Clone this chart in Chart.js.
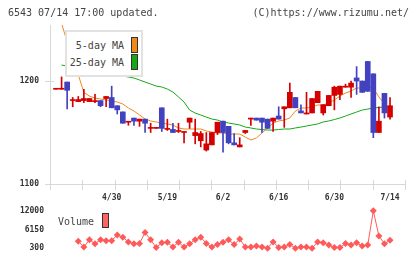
<!DOCTYPE html>
<html><head><meta charset="utf-8">
<script src="https://cdn.jsdelivr.net/npm/chart.js@4/dist/chart.umd.min.js"></script>
<style>
html,body{margin:0;padding:0;background:#fff;}
#wrap{position:relative;width:420px;height:259px;overflow:hidden;font-family:"DejaVu Sans Mono",monospace;}
canvas{position:absolute;left:0;}
#main{top:0;}
#vol{top:200px;}
.t{position:absolute;font-size:10px;line-height:12px;color:#444;white-space:pre;}
#legend{position:absolute;left:65px;top:30px;width:78px;height:47px;box-sizing:border-box;border:2px solid #e2e2e2;background:#fff;}
.sw{position:absolute;width:7px;height:16px;box-sizing:border-box;border:1px solid #333;}
</style></head>
<body><div id="wrap">
<canvas id="main" width="420" height="205"></canvas>
<canvas id="vol" width="420" height="59"></canvas>
<div class="t" style="left:8px;top:7px;">6543 07/14 17:00 updated.</div>
<div class="t" style="right:11px;top:7px;">(C)https://www.rizumu.net/</div>
<div id="legend"></div>
<div class="t" style="right:296px;top:40px;">5-day MA</div>
<div class="t" style="right:296px;top:57px;">25-day MA</div>
<div class="sw" style="left:131px;top:37px;background:#f08a1a;"></div>
<div class="sw" style="left:131px;top:54px;background:#16a816;"></div>
<div class="t" style="left:58px;top:216px;">Volume</div>
<div class="sw" style="left:102px;top:213px;height:15px;background:#ff6464;"></div>
</div>
<script>
// ---- data (index 0 .. 60 = trading days, last = 7/14) ----
const tickLabels = ['4/30','5/19','6/2','6/16','6/30','7/14'];
const tickIndex  = [10, 20, 30, 40, 50, 60];
const open  = [1192,1192,1199,1181,1180,1181,1180,1180,1181,1183,1184,1176,1170,1160,1164,1161,1163,1154,1154,1174,1153,1153,1151,1150,1160,1147,1142,1133,1138,1150,1161,1156,1140,1136,1150,1163,1164,1164,1163,1161,1166,1173,1174,1184,1171,1168,1169,1179,1169,1176,1186,1187,1194,1194,1203,1200,1219,1207,1150,1188,1165];
const high  = [1192,1204,1199,1184,1185,1192,1183,1187,1181,1185,1195,1176,1170,1160,1164,1163,1163,1159,1155,1174,1163,1159,1159,1151,1164,1163,1151,1150,1150,1160,1161,1156,1149,1145,1152,1164,1164,1164,1163,1164,1175,1175,1198,1184,1177,1189,1183,1190,1177,1186,1195,1195,1197,1200,1214,1200,1219,1207,1175,1188,1184];
const low   = [1192,1192,1173,1175,1180,1179,1180,1179,1175,1175,1174,1168,1159,1157,1157,1156,1150,1150,1154,1151,1152,1150,1150,1140,1154,1139,1136,1132,1138,1148,1131,1139,1138,1136,1149,1157,1162,1150,1154,1151,1163,1155,1174,1174,1169,1168,1169,1179,1167,1176,1172,1182,1194,1184,1187,1189,1190,1145,1150,1164,1163];
const close = [1192,1192,1191,1181,1182,1183,1183,1181,1176,1185,1174,1172,1159,1160,1161,1163,1159,1155,1155,1154,1154,1150,1152,1151,1164,1150,1149,1139,1150,1160,1150,1140,1138,1138,1152,1164,1162,1160,1154,1164,1163,1175,1189,1174,1169,1169,1183,1190,1177,1186,1194,1195,1195,1198,1200,1189,1190,1150,1161,1169,1176];
const ma5   = [null,1256,1238,1221,1206,1189,1185.4,1183.5,1182.5,1181.6,1180.6,1179.6,1177.7,1173.8,1170.9,1167,1163.1,1161.2,1160.2,1159.2,1158.3,1157.3,1154.4,1153.4,1153.4,1153.4,1153.4,1151.5,1150.5,1149.5,1149.5,1148.5,1148.5,1148.5,1145.6,1142.7,1144.7,1149.5,1154.4,1159.2,1161.2,1162.1,1164.1,1170.9,1173.8,1173.8,1174.8,1176.7,1176.7,1178.6,1181.6,1185.4,1188.3,1190.3,1193.2,1193.2,1194.2,1193.2,1184.5,1177.7,1171.8];
const ma25  = [null,1215.5,1214.6,1213.6,1212.6,1211.7,1210.7,1209.7,1208.7,1207.8,1206.8,1205.8,1204.9,1203.9,1202.9,1201,1199,1197.1,1195.1,1194.2,1192.2,1189.3,1184.5,1179.6,1171.8,1168.9,1167,1165,1163.1,1162.1,1160.2,1159.2,1158.3,1157.3,1155.3,1154.4,1153.4,1152.9,1152.4,1152.4,1152.9,1153.4,1153.4,1154.4,1155.3,1156.3,1157.3,1158.3,1160.2,1161.2,1162.6,1164.1,1166,1168,1169.9,1171.8,1172.8,1173.8,1174.3,1174.8,1175.7];
const volume = [null,null,null,null,2450,680,2950,1690,2950,2660,2660,4430,3750,2270,1690,1770,5220,2950,500,1980,2160,680,2160,680,1690,2950,3750,1770,680,1480,2160,2950,1480,3150,680,680,980,680,300,2270,500,680,1480,300,680,680,300,2270,1980,1270,500,500,1770,1270,1980,980,1270,12000,4130,1690,2750];
const priceTicks = [1100, 1200];
const volTicks = [300, 6150, 12000];

// ---- styles ----
const RED = '#d40000', BLUE = '#4242c0', ORANGE = '#f08a1a', GREEN = '#16a816', VOLC = '#ff5a5a', AX = '#d8d8d8', TXT = '#333';
const XMIN = -1.08, XMAX = 62.69;
const lblFont = {family:'DejaVu Sans Mono', size:8, weight:'bold'};

const up = close.map((c,i)=> c >= open[i]);
const colors = up.map(u => u ? RED : BLUE);

const deco = {
  id:'deco',
  afterDraw(c){
    const ctx = c.ctx, a = c.chartArea, xs = c.scales.x, ys = c.scales.y;
    ctx.save(); ctx.strokeStyle = AX; ctx.lineWidth = 1; ctx.beginPath();
    for (let k = 0; k <= 11; k++) {
      const px = Math.round(xs.getPixelForValue(XMIN + k*(XMAX-XMIN)/11)) + 0.5;
      ctx.moveTo(px, a.bottom - 4); ctx.lineTo(px, a.bottom + 6);
    }
    priceTicks.forEach(v => {
      const py = Math.round(ys.getPixelForValue(v)) + 0.5;
      ctx.moveTo(a.left - 5, py); ctx.lineTo(a.left + 4, py);
    });
    ctx.stroke(); ctx.restore();
  }
};

new Chart(document.getElementById('main'), {
  type:'bar',
  data:{datasets:[
    {type:'line', data: ma5.map((v,i)=>({x:i,y:v})), borderColor:ORANGE, borderWidth:1, pointRadius:0, order:3, spanGaps:false},
    {type:'line', data: ma25.map((v,i)=>({x:i,y:v})), borderColor:GREEN, borderWidth:1, pointRadius:0, order:3, spanGaps:false},
    {type:'bar', data: low.map((l,i)=>({x:i,y:[l, high[i]]})), backgroundColor:colors, barThickness:1, minBarLength:1, grouped:false, order:2},
    {type:'bar', data: open.map((o,i)=>({x:i,y:[o, close[i]]})), backgroundColor:colors, barThickness:5, minBarLength:1, grouped:false, order:1}
  ]},
  options:{
    responsive:false, animation:false, devicePixelRatio:1,
    layout:{padding:{top:25,right:15,left:0,bottom:0}},
    plugins:{legend:{display:false}, tooltip:{enabled:false}},
    scales:{
      x:{type:'linear', min:XMIN, max:XMAX, offset:false,
         grid:{display:false, drawTicks:false}, border:{display:true,color:AX,width:1},
         afterBuildTicks:s=>{s.ticks = tickIndex.map(v=>({value:v}));},
         afterFit:s=>{s.height = 21;},
         ticks:{padding:9, color:TXT, font:lblFont, maxRotation:0, autoSkip:false,
                callback:v=>{const k = tickIndex.indexOf(v); return k>=0 ? tickLabels[k] : '';}}},
      y:{type:'linear', min:1100, max:1254.4,
         grid:{display:false, drawTicks:false}, border:{display:true,color:AX,width:1},
         afterBuildTicks:s=>{s.ticks = priceTicks.map(v=>({value:v}));},
         afterFit:s=>{s.width = 50;},
         ticks:{padding:11, color:TXT, font:lblFont, callback:v=>String(v)}}
    }
  },
  plugins:[deco]
});

new Chart(document.getElementById('vol'), {
  type:'line',
  data:{datasets:[{
    data: volume.map((v,i)=>({x:i,y:v})).filter(p=>p.y!==null),
    borderColor:VOLC, backgroundColor:VOLC, borderWidth:1,
    pointStyle:'rectRot', pointRadius:3.5, pointBorderWidth:0, clip:false
  }]},
  options:{
    responsive:false, animation:false, devicePixelRatio:1,
    layout:{padding:{top:9,right:15,left:0,bottom:10}},
    plugins:{legend:{display:false}, tooltip:{enabled:false}},
    scales:{
      x:{type:'linear', min:XMIN, max:XMAX, display:false},
      y:{type:'linear', min:300, max:12000,
         grid:{display:false, drawTicks:false}, border:{display:false},
         afterBuildTicks:s=>{s.ticks = volTicks.map(v=>({value:v}));},
         afterFit:s=>{s.width = 50;},
         ticks:{padding:6, color:TXT, font:lblFont, callback:v=>String(v)}}
    }
  }
});
</script>
</body></html>
